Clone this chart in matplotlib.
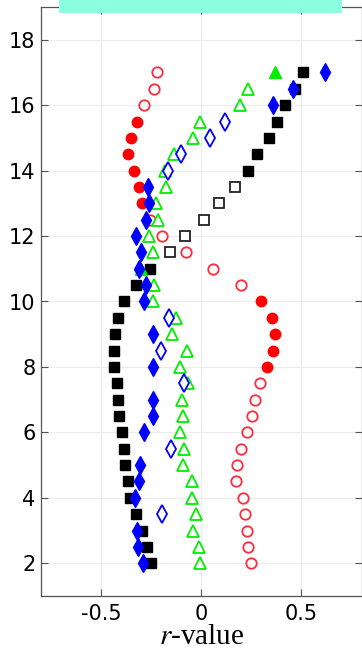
import numpy as np
import matplotlib
matplotlib.use('Agg')
import matplotlib.pyplot as plt
from matplotlib.patches import Rectangle

plt.rcParams['font.family'] = ['DejaVu Sans']
plt.rcParams['mathtext.fontset'] = 'stix'

# depth levels (one marker per level and series)
depth = [2, 2.5, 3, 3.5, 4, 4.5, 5, 5.5, 6, 6.5, 7, 7.5, 8, 8.5, 9, 9.5,
         10, 10.5, 11, 11.5, 12, 12.5, 13, 13.5, 14, 14.5, 15, 15.5, 16, 16.5, 17]

# r-values; *_sig marks the filled (significant) points
r_red = [0.247, 0.232, 0.227, 0.220, 0.207, 0.174, 0.179, 0.199, 0.229, 0.254,
         0.270, 0.292, 0.327, 0.360, 0.367, 0.353, 0.299, 0.197, 0.061, -0.076,
         -0.197, -0.257, -0.298, -0.313, -0.335, -0.365, -0.350, -0.320, -0.284,
         -0.237, -0.222]
red_sig = [0]*12 + [1]*5 + [0]*5 + [1]*6 + [0]*3

r_black = [-0.249, -0.270, -0.297, -0.327, -0.355, -0.367, -0.381, -0.386, -0.395,
           -0.410, -0.416, -0.423, -0.436, -0.436, -0.431, -0.415, -0.386, -0.327,
           -0.255, -0.156, -0.083, 0.012, 0.090, 0.169, 0.235, 0.279, 0.340, 0.376,
           0.418, 0.469, 0.509]
black_sig = [1]*19 + [0]*5 + [1]*7

r_green = [-0.008, -0.010, -0.041, -0.028, -0.045, -0.048, -0.091, -0.086, -0.108,
           -0.093, -0.098, -0.066, -0.104, -0.070, -0.148, -0.124, -0.242, -0.235,
           -0.302, -0.239, -0.259, -0.216, -0.224, -0.177, -0.182, -0.134, -0.041,
           -0.005, 0.191, 0.235, 0.370]
green_sig = [0]*18 + [1] + [0]*11 + [1]

r_blue = [-0.290, -0.318, -0.323, -0.194, -0.330, -0.310, -0.308, -0.151, -0.284,
          -0.242, -0.242, -0.086, -0.240, -0.202, -0.242, -0.163, -0.284, -0.274,
          -0.313, -0.300, -0.327, -0.275, -0.260, -0.264, -0.166, -0.100, 0.045,
          0.121, 0.357, 0.459, 0.617]
blue_sig = [1, 1, 1, 0, 1, 1, 1, 0, 1, 1, 1, 0, 1, 0, 1, 0, 1, 1, 1, 1, 1, 1, 1, 1,
            0, 0, 0, 0, 1, 1, 1]

fig = plt.figure(figsize=(3.62, 6.51), dpi=100)
ax = fig.add_axes([41/362, 1 - 596/651, (361.5 - 41)/362, (596 - 7)/651])


def plot_series(r, sig, color, marker, ms, edge=None):
    r = np.array(r)
    y = np.array(depth)
    sig = np.array(sig, dtype=bool)
    edge = edge or color
    ax.plot(r[sig], y[sig], linestyle='none', marker=marker, ms=ms,
            mfc=color, mec=color, mew=1.0)
    ax.plot(r[~sig], y[~sig], linestyle='none', marker=marker, ms=ms,
            mfc='white', mec=edge, mew=1.3)


plot_series(r_red, red_sig, '#ff0000', 'o', 7.5, edge='#ff2a3c')
plot_series(r_black, black_sig, '#000000', 's', 6.5, edge='#222222')
plot_series(r_green, green_sig, '#00ee00', '^', 8)
plot_series(r_blue, blue_sig, '#0000ff', 'd', 9)

ax.set_xlim(-0.8, 0.8)
ax.set_ylim(1, 19)
ax.set_xticks([-0.5, 0, 0.5])
ax.set_xticklabels(['-0.5', '0', '0.5'])
ax.set_yticks([2, 4, 6, 8, 10, 12, 14, 16, 18])
ax.grid(True, color='#ececec', lw=0.8)
ax.set_axisbelow(True)
ax.tick_params(direction='in', length=5, width=0.8, labelsize=15,
               top=True, right=True, colors='#555555', labelcolor='black')
ax.tick_params(axis='x', pad=6)
ax.tick_params(axis='y', pad=4)
for s in ax.spines.values():
    s.set_color('#555555')
    s.set_linewidth(0.9)

ax.set_xlabel('$r$-value', fontsize=21, family='Liberation Serif', labelpad=0)

# colored banner at the top edge
fig.patches.append(Rectangle((59/362, 1 - 13/651), 283/362, 13/651,
                             transform=fig.transFigure, facecolor='#8cffe0',
                             edgecolor='none', zorder=5))

fig.savefig('out.png', dpi=100)
